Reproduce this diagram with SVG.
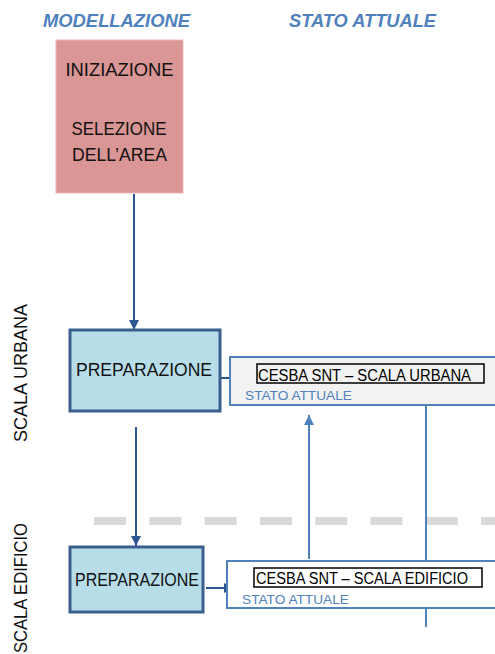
<svg xmlns="http://www.w3.org/2000/svg" width="495" height="654" viewBox="0 0 495 654">
  <style>
    .hdr { font-family: "Liberation Sans", Arial, sans-serif; font-weight: bold; font-style: italic; font-size: 19px; fill: #4F81BD; }
    .lbl { font-family: "Liberation Sans", Arial, sans-serif; font-size: 18.5px; fill: #111; }
    .side { font-family: "Liberation Sans", Arial, sans-serif; font-size: 18px; fill: #111; }
    .tag { font-family: "Liberation Sans", Arial, sans-serif; font-size: 16px; fill: #000; }
    .state { font-family: "Liberation Sans", Arial, sans-serif; font-size: 13.5px; fill: #4F81BD; }
    .prep { fill: #B7DEE8; stroke: #3A5F8C; stroke-width: 3; }
    .panel { stroke: #4F81BD; stroke-width: 2; }
    .tagbox { fill: none; stroke: #000; stroke-width: 1.5; }
    .dark { stroke: #2C5592; stroke-width: 2; fill: none; }
    .light { stroke: #4F81BD; stroke-width: 2; fill: none; }
  </style>
  <defs>
    <marker id="ahDark" viewBox="0 0 10 10" refX="10" refY="5" markerWidth="5" markerHeight="5" orient="auto" markerUnits="strokeWidth">
      <path d="M0,0 L10,5 L0,10 z" fill="#2C5592"/>
    </marker>
    <marker id="ahLight" viewBox="0 0 10 10" refX="10" refY="5" markerWidth="5" markerHeight="5" orient="auto" markerUnits="strokeWidth">
      <path d="M0,0 L10,5 L0,10 z" fill="#4F81BD"/>
    </marker>
  </defs>

  <rect width="495" height="654" fill="#fff"/>

  <!-- column headers -->
  <text class="hdr" x="43" y="27" textLength="147" lengthAdjust="spacingAndGlyphs">MODELLAZIONE</text>
  <text class="hdr" x="289" y="27" textLength="147" lengthAdjust="spacingAndGlyphs">STATO ATTUALE</text>

  <!-- side labels -->
  <text class="side" transform="translate(27,373) rotate(-90)" text-anchor="middle">SCALA URBANA</text>
  <text class="side" transform="translate(27,653) rotate(-90)" textLength="130" lengthAdjust="spacingAndGlyphs">SCALA EDIFICIO</text>

  <!-- scale separator -->
  <line x1="94" y1="521" x2="495" y2="521" stroke="#D9D9D9" stroke-width="8" stroke-dasharray="32 23.3"/>

  <!-- connectors -->
  <g id="connectors">
    <line class="dark" x1="134" y1="194" x2="134" y2="330" marker-end="url(#ahDark)"/>
    <line class="dark" x1="136" y1="427" x2="136" y2="546" marker-end="url(#ahDark)"/>
    <line class="dark" x1="220" y1="378" x2="246" y2="378" marker-end="url(#ahDark)"/>
    <line class="dark" x1="206" y1="588" x2="234" y2="588" marker-end="url(#ahDark)"/>
    <line class="light" x1="309" y1="559" x2="309" y2="415" marker-end="url(#ahLight)"/>
    <line class="light" x1="426" y1="405" x2="426" y2="561"/>
    <line class="light" x1="426" y1="608" x2="426" y2="627"/>
  </g>

  <!-- start node -->
  <g id="iniziazione">
    <rect x="56" y="40" width="127" height="153" fill="#D99694" stroke="#E6B9B8" stroke-width="1"/>
    <text class="lbl" x="119.5" y="76" text-anchor="middle" textLength="108" lengthAdjust="spacingAndGlyphs">INIZIAZIONE</text>
    <text class="lbl" x="119" y="135" text-anchor="middle" textLength="95" lengthAdjust="spacingAndGlyphs">SELEZIONE</text>
    <text class="lbl" x="119.5" y="161" text-anchor="middle" textLength="95" lengthAdjust="spacingAndGlyphs">DELL’AREA</text>
  </g>

  <!-- urban scale -->
  <g id="preparazione-urbana">
    <rect class="prep" x="70" y="330" width="150" height="81"/>
    <text class="lbl" x="144" y="376" text-anchor="middle" textLength="136" lengthAdjust="spacingAndGlyphs">PREPARAZIONE</text>
  </g>
  <g id="cesba-urbana">
    <rect class="panel" x="230" y="357" width="270" height="48" fill="#F2F2F2"/>
    <rect class="tagbox" x="257" y="364" width="227" height="19"/>
    <text class="tag" x="258" y="381" textLength="213" lengthAdjust="spacingAndGlyphs">CESBA SNT – SCALA URBANA</text>
    <text class="state" x="245" y="400" textLength="107" lengthAdjust="spacingAndGlyphs">STATO ATTUALE</text>
  </g>

  <!-- building scale -->
  <g id="preparazione-edificio">
    <rect class="prep" x="70" y="547" width="133" height="65"/>
    <text class="lbl" x="137" y="586" text-anchor="middle" font-size="17px" textLength="124" lengthAdjust="spacingAndGlyphs">PREPARAZIONE</text>
  </g>
  <g id="cesba-edificio">
    <rect class="panel" x="227" y="561" width="273" height="47" fill="#fff"/>
    <rect class="tagbox" x="254" y="568" width="228" height="19"/>
    <text class="tag" x="256" y="584" textLength="212" lengthAdjust="spacingAndGlyphs">CESBA SNT – SCALA EDIFICIO</text>
    <text class="state" x="242" y="604" textLength="107" lengthAdjust="spacingAndGlyphs">STATO ATTUALE</text>
  </g>
</svg>
